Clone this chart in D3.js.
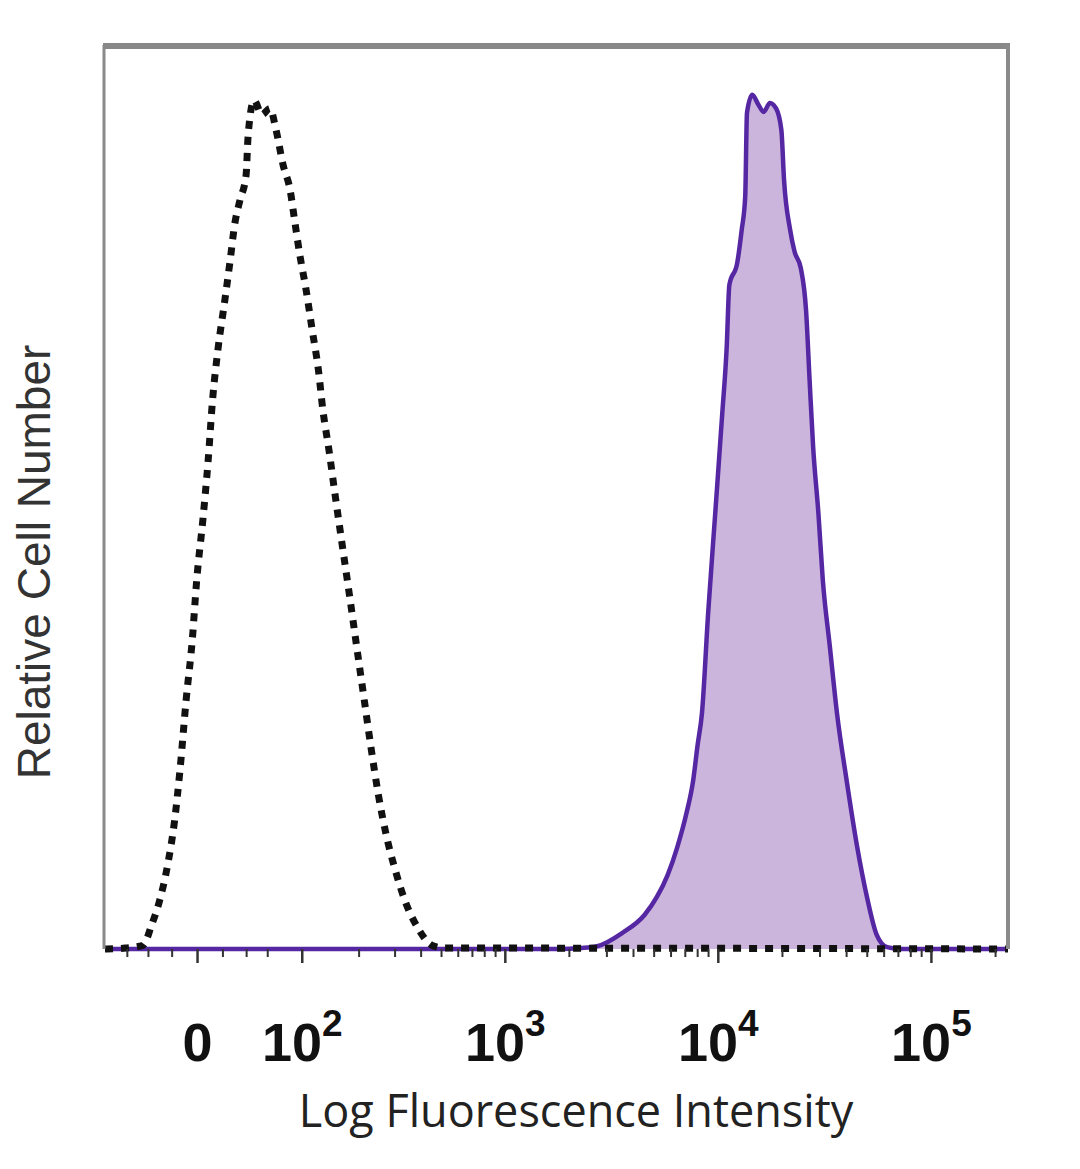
<!DOCTYPE html>
<html>
<head>
<meta charset="utf-8">
<script src="https://cdn.jsdelivr.net/npm/d3@7"></script>
<style>
  body { margin: 0; background: #fff; }
</style>
</head>
<body>
<div id="chart"></div>
<script>
// histogram bins on display channels (0..1024), counts as % of the plot height

// isotype control (dashed)
const isoChannel = [0, 23, 43, 53, 62, 71, 79, 85, 92, 99, 104, 111, 117, 122, 128, 136, 142, 147, 153, 160, 162, 164, 169,
  178, 187, 194, 202, 210, 215, 221, 228, 235, 242, 247, 254, 261, 269, 278, 286, 294, 302, 310, 319, 329, 340, 355, 371, 386, 425, 1024];
const isoCount = [0, 0.1, 0.4, 2.7, 5.4, 9.3, 14.3, 19.8, 27.6, 34.3, 40.9, 47.6, 54.2, 60.9, 66.4, 72.0, 76.4, 80.3, 83.0, 85.8, 89.7, 91.9, 94.1,
  92.5, 93.2, 90.8, 86.9, 84.1, 80.8, 76.9, 73.1, 68.6, 64.2, 59.8, 55.3, 50.3, 44.8, 38.7, 33.1, 27.6, 22.1, 17.1, 12.6, 8.8, 5.4, 2.3, 0.4, 0.1, 0.1, 0];

// stained sample (filled purple)
const stainChannel = [0, 516, 539, 558, 587, 612, 626, 638, 649, 659, 667, 672, 677, 684, 692, 700, 705, 708, 717, 722, 726, 728, 734,
  741, 747, 754, 761, 767, 770, 777, 782, 789, 795, 799, 803, 809, 814, 822, 830, 841, 853, 864, 875, 887, 902, 1024];
const stainCount = [0, 0, 0.1, 0.3, 1.8, 3.8, 5.8, 8.2, 11.3, 14.9, 18.7, 22.6, 26.2, 37.3, 48.3, 59.4, 66.7, 73.6, 76.1, 79.7, 83.4, 92.7, 94.7,
  93.6, 92.8, 93.8, 93.2, 90.8, 85.3, 79.7, 77.3, 75.5, 70.8, 63.1, 55.7, 48.3, 40.9, 33.5, 26.2, 18.7, 11.3, 5.8, 1.6, 0.2, 0, 0];

// axis (fluorescence intensity)
const majorTicks = [0, 100, 1000, 10000, 100000];
const majorBase = ["0", "10", "10", "10", "10"];
const majorExp = ["", "2", "3", "4", "5"];
const minorTicks = [-60, -40, -20, 20, 40, 60,
  200, 300, 400, 500, 600, 700, 800, 900,
  2000, 3000, 4000, 5000, 6000, 7000, 8000, 9000,
  20000, 30000, 40000, 50000, 60000, 70000, 80000, 90000, 200000];

const xTitle = "Log Fluorescence Intensity";
const yTitle = "Relative Cell Number";

// biexponential-like display transform, intensity -> channel
const W = 72, XMIN = -84, XMAX = 230000, CHANNELS = 1024;
const T = v => Math.asinh(v / W) / Math.LN10;
const toChannel = v => (T(v) - T(XMIN)) / (T(XMAX) - T(XMIN)) * CHANNELS;

const margin = {top: 47, right: 72, bottom: 220, left: 105};
const width = 1080 - margin.left - margin.right;
const height = 1169 - margin.top - margin.bottom;

const svg = d3.select("#chart").append("svg")
  .attr("width", 1080)
  .attr("height", 1169);

const g = svg.append("g")
  .attr("transform", "translate(" + margin.left + "," + margin.top + ")");

const x = d3.scaleLinear().domain([0, CHANNELS]).range([0, width]);
const y = d3.scaleLinear().domain([0, 100]).range([height, 0]);

const iso = isoChannel.map((c, i) => ({c: c, n: isoCount[i]}));
const stain = stainChannel.map((c, i) => ({c: c, n: stainCount[i]}));

const area = d3.area()
  .x(d => x(d.c))
  .y0(y(0))
  .y1(d => y(d.n))
  .curve(d3.curveMonotoneX);

const line = d3.line()
  .x(d => x(d.c))
  .y(d => y(d.n))
  .curve(d3.curveMonotoneX);

// filled sample
g.append("path")
  .datum(stain)
  .attr("d", area)
  .attr("fill", "#cbb5dc");

g.append("path")
  .datum(stain)
  .attr("d", line)
  .attr("fill", "none")
  .attr("stroke", "#5627a3")
  .attr("stroke-width", 4.5)
  .attr("stroke-linejoin", "round");

// isotype control
g.append("path")
  .datum(iso)
  .attr("d", line)
  .attr("fill", "none")
  .attr("stroke", "#111")
  .attr("stroke-width", 7)
  .attr("stroke-dasharray", "8,8");

// minor ticks
const minorAxis = d3.axisBottom(x)
  .tickValues(minorTicks.map(toChannel))
  .tickSize(8)
  .tickFormat("");

g.append("g")
  .attr("class", "axis minor")
  .attr("transform", "translate(0," + height + ")")
  .call(minorAxis)
  .call(a => a.select(".domain").remove())
  .selectAll("line").attr("stroke", "#333").attr("stroke-width", 2);

// major ticks with superscript labels
const majorAxis = d3.axisBottom(x)
  .tickValues(majorTicks.map(toChannel))
  .tickSize(14)
  .tickFormat("");

const xAxis = g.append("g")
  .attr("class", "axis major")
  .attr("transform", "translate(0," + height + ")")
  .call(majorAxis);
xAxis.select(".domain").remove();
xAxis.selectAll("line").attr("stroke", "#333").attr("stroke-width", 2.5);
xAxis.selectAll(".tick text").remove();

xAxis.selectAll(".tick").each(function(d, i) {
  let t = d3.select(this).append("text")
    .attr("y", 112)
    .attr("text-anchor", "middle")
    .attr("fill", "#111")
    .style("font-family", "'Liberation Sans', Arial, sans-serif")
    .style("font-weight", "bold")
    .style("font-size", "54px");
  t.append("tspan").text(majorBase[i]);
  if (majorExp[i]) {
    t.append("tspan")
      .attr("dy", -25)
      .style("font-size", "37px")
      .text(majorExp[i]);
  }
});

// frame
g.append("line")
  .attr("x1", -1).attr("x2", -1)
  .attr("y1", -2).attr("y2", height)
  .attr("stroke", "#8a8a8a").attr("stroke-width", 3);
g.append("line")
  .attr("x1", -2).attr("x2", width + 2)
  .attr("y1", -1).attr("y2", -1)
  .attr("stroke", "#888").attr("stroke-width", 6);
g.append("line")
  .attr("x1", width).attr("x2", width)
  .attr("y1", -2).attr("y2", height)
  .attr("stroke", "#8a8a8a").attr("stroke-width", 4);

// axis titles
svg.append("text")
  .attr("x", 576)
  .attr("y", 1127)
  .attr("text-anchor", "middle")
  .attr("fill", "#222")
  .style("font-family", "'Open Sans', 'Noto Sans', sans-serif")
  .style("font-size", "45px")
  .text(xTitle);

svg.append("text")
  .attr("transform", "translate(50,562) rotate(-90)")
  .attr("text-anchor", "middle")
  .attr("fill", "#333")
  .style("font-family", "'Liberation Sans', Arial, sans-serif")
  .style("font-size", "46px")
  .text(yTitle);
</script>
</body>
</html>
